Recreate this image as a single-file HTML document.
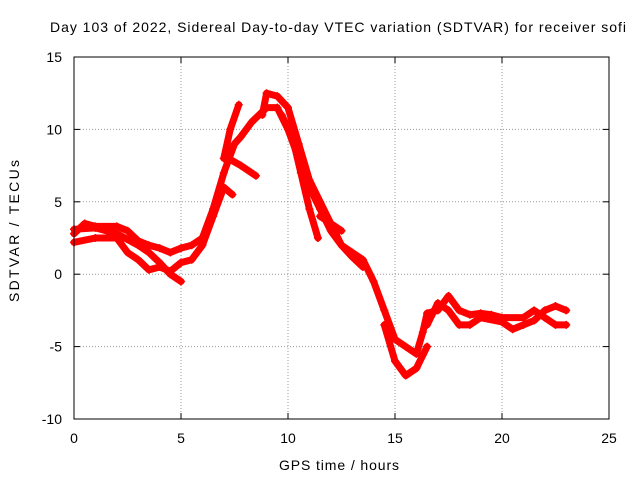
<!DOCTYPE html>
<html><head><meta charset="utf-8"><style>
body{margin:0;background:#fff}
svg{font-family:"Liberation Sans",sans-serif;font-size:14px}
</style></head><body>
<svg id="chart" width="640" height="480" xmlns="http://www.w3.org/2000/svg">
<rect width="640" height="480" fill="#fff"/>
<text x="338" y="32" text-anchor="middle" textLength="576" lengthAdjust="spacing" font-size="14">Day 103 of 2022, Sidereal Day-to-day VTEC variation (SDTVAR) for receiver sofi</text>
<g id="grid"></g>
<g id="series"></g>
<rect x="74" y="57" width="535" height="362" fill="none" stroke="#000" stroke-width="1"/>
<g id="ticks"></g>
<text x="339" y="470" text-anchor="middle" textLength="120" lengthAdjust="spacing" font-size="14">GPS time / hours</text>
<text transform="translate(19,231) rotate(-90)" text-anchor="middle" textLength="142" lengthAdjust="spacing" font-size="14">SDTVAR / TECUs</text>
</svg>
<script>
const xTicks=[0,5,10,15,20,25];
const yTicks=[-10,-5,0,5,10,15];
const bandA=[[0,2.8],[0.5,3.5],[1,3.3],[2,3.3],[2.5,3.0],[3,2.3],[3.5,2.0],[4,1.8],[4.5,1.5],[5,1.8],[5.5,2.0],[6,2.5],[6.5,4.5],[7,7],[7.5,9],[7.8,9.5],[8.3,10.5],[9,11.5],[9.5,11.5],[10,10],[10.5,8],[11,6],[11.5,4.5],[12,3],[12.5,2],[13,1.5],[13.5,1],[14,-0.5],[14.5,-2.5],[15,-4.5],[15.5,-5],[16,-5.5],[16.3,-4],[16.5,-2.7],[17,-2.5],[17.5,-1.5],[18,-2.5],[18.5,-2.8],[19,-2.7],[19.5,-2.8],[20,-3],[21,-3],[21.5,-2.5],[22,-3],[22.5,-3.5],[23,-3.5]];
const bandB=[[0,2.2],[1,2.5],[2,2.5],[2.5,1.5],[3,1],[3.5,0.3],[4,0.5],[4.5,0.2],[5,0.8],[5.5,1.0],[6,2],[6.5,4],[7,6],[7.4,5.5]];
const bandC=[[0,3.1],[1,3.2],[2,2.8],[3,2],[3.5,1.5],[4,0.8],[4.5,0],[5,-0.5]];
const branchUp=[[7,8],[7.3,10],[7.7,11.7]];
const branchMid=[[7.2,8],[7.8,7.5],[8.5,6.8]];
const bandD=[[8.8,11],[9,12.5],[9.5,12.3],[10,11.5],[10.5,9],[11,6.5],[11.5,5],[12,3.5],[12.5,2],[13,1.2],[13.5,0.5]];
const bandE=[[9.7,11],[10.2,9.5],[10.6,7],[11,4.5],[11.4,2.5]];
const bandF=[[11.5,4],[12,3.5],[12.5,3]];
const bandG=[[14.5,-3.5],[15,-6],[15.5,-7],[16,-6.5],[16.5,-5]];
const bandH=[[16.5,-3.5],[17,-2],[17.5,-2.5],[18,-3.5],[18.5,-3.5],[19,-3],[20,-3.3],[20.5,-3.8],[21,-3.5],[21.5,-3.2],[22,-2.5],[22.5,-2.2],[23,-2.5]];
const allSeries=[bandA,bandB,bandC,branchUp,branchMid,bandD,bandE,bandF,bandG,bandH];
const NS="http://www.w3.org/2000/svg";
const X0=74,X1=609,Y0=419,Y1=57;
function sx(v){return X0+(v-0)/(25-0)*(X1-X0);}
function sy(v){return Y0-(v+10)/(25)*(Y0-Y1);}
const grid=document.getElementById('grid'),ticks=document.getElementById('ticks'),ser=document.getElementById('series');
function mk(tag,attrs,parent){const e=document.createElementNS(NS,tag);for(const k in attrs)e.setAttribute(k,attrs[k]);parent.appendChild(e);return e;}
xTicks.forEach(t=>{const x=sx(t);
 if(t>0&&t<25){const g=mk('line',{x1:x,x2:x,y1:Y1,y2:Y0,stroke:'#999','stroke-dasharray':'1,2'},grid);
 
 }
 const tl=mk('text',{x:x,y:443,'text-anchor':'middle'},ticks);tl.textContent=t;
 
 
 mk('line',{x1:x,x2:x,y1:Y0,y2:Y0-6,stroke:'#000'},ticks);mk('line',{x1:x,x2:x,y1:Y1,y2:Y1+6,stroke:'#000'},ticks);});
yTicks.forEach(t=>{const y=sy(t);
 if(t>-10&&t<15){const g=mk('line',{x1:X0,x2:X1,y1:y,y2:y,stroke:'#999','stroke-dasharray':'1,2'},grid);
 
 }
 const tl=mk('text',{x:62,y:y+5,'text-anchor':'end'},ticks);tl.textContent=t;
 
 
 mk('line',{x1:X0,x2:X0+6,y1:y,y2:y,stroke:'#000'},ticks);mk('line',{x1:X1,x2:X1-6,y1:y,y2:y,stroke:'#000'},ticks);});
allSeries.forEach(s=>{
 const pl=mk('polyline',{points:s.map(p=>sx(p[0])+','+sy(p[1])).join(' '),fill:'none',stroke:'#f00','stroke-width':7,'stroke-linejoin':'round','stroke-linecap':'round'},ser);
 
 
 s.forEach(p=>{const x=sx(p[0]),y=sy(p[1]);
  const m=mk('path',{d:`M${x-4},${y}H${x+4}M${x},${y-4}V${y+4}`,stroke:'#f00','stroke-width':1.5},ser);
  
  });
});
</script>
</body></html>
